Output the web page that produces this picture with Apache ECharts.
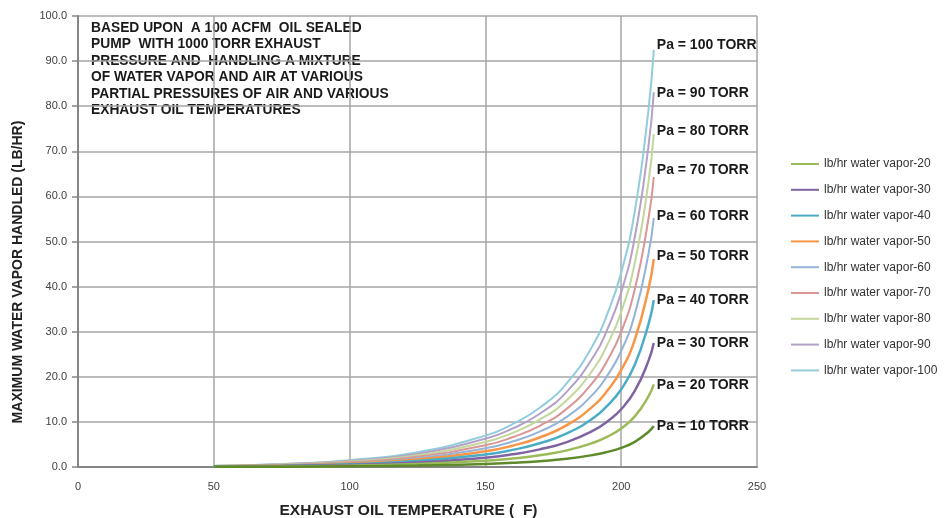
<!DOCTYPE html>
<html>
<head>
<meta charset="utf-8">
<script src="https://cdn.jsdelivr.net/npm/echarts@6/dist/echarts.min.js"></script>
<style>
  html, body { margin: 0; padding: 0; background: #fff; }
  #chart { width: 951px; height: 518px; }
</style>
</head>
<body>
<div id="chart"></div>
<script>
// exhaust oil temperature (F)
const temps = [50, 75, 100, 125, 150, 160, 170, 180, 190, 195, 200, 205, 210, 212];

// lb/hr water vapor handled, one array per air partial pressure
const vapor10 = [0.03, 0.07, 0.15, 0.32, 0.68, 0.93, 1.29, 1.83, 2.70, 3.36, 4.24, 5.58, 7.77, 9.1];
const vapor20 = [0.05, 0.13, 0.30, 0.65, 1.38, 1.88, 2.60, 3.68, 5.43, 6.75, 8.53, 11.22, 15.62, 18.3];
const vapor30 = [0.08, 0.20, 0.45, 0.98, 2.07, 2.82, 3.91, 5.53, 8.16, 10.15, 12.81, 16.86, 23.48, 27.5];
const vapor40 = [0.11, 0.27, 0.60, 1.31, 2.78, 3.80, 5.26, 7.44, 10.97, 13.66, 17.24, 22.68, 31.59, 37.0];
const vapor50 = [0.14, 0.33, 0.75, 1.64, 3.47, 4.73, 6.55, 9.28, 13.67, 17.02, 21.48, 28.26, 39.36, 46.1];
const vapor60 = [0.16, 0.40, 0.90, 1.96, 4.15, 5.66, 7.84, 11.11, 16.37, 20.37, 25.72, 33.84, 47.13, 55.2];
const vapor70 = [0.19, 0.46, 1.05, 2.28, 4.83, 6.60, 9.14, 12.94, 19.07, 23.73, 29.96, 39.42, 54.90, 64.3];
const vapor80 = [0.22, 0.53, 1.21, 2.62, 5.55, 7.57, 10.49, 14.85, 21.89, 27.24, 34.38, 45.24, 63.01, 73.8];
const vapor90 = [0.24, 0.60, 1.36, 2.95, 6.25, 8.53, 11.81, 16.72, 24.65, 30.67, 38.72, 50.94, 70.95, 83.1];
const vapor100 = [0.27, 0.66, 1.51, 3.28, 6.96, 9.49, 13.14, 18.61, 27.44, 34.14, 43.10, 56.70, 78.98, 92.5];

const seriesNames = [
  'lb/hr water vapor-10', 'lb/hr water vapor-20', 'lb/hr water vapor-30', 'lb/hr water vapor-40',
  'lb/hr water vapor-50', 'lb/hr water vapor-60', 'lb/hr water vapor-70', 'lb/hr water vapor-80',
  'lb/hr water vapor-90', 'lb/hr water vapor-100'
];
const endLabels = [
  'Pa = 10 TORR', 'Pa = 20 TORR', 'Pa = 30 TORR', 'Pa = 40 TORR', 'Pa = 50 TORR',
  'Pa = 60 TORR', 'Pa = 70 TORR', 'Pa = 80 TORR', 'Pa = 90 TORR', 'Pa = 100 TORR'
];
const noteLines = [
  'BASED UPON  A 100 ACFM  OIL SEALED',
  'PUMP  WITH 1000 TORR EXHAUST',
  'PRESSURE AND  HANDLING A MIXTURE',
  'OF WATER VAPOR AND AIR AT VARIOUS',
  'PARTIAL PRESSURES OF AIR AND VARIOUS',
  'EXHAUST OIL TEMPERATURES'
];
const xTitle = 'EXHAUST OIL TEMPERATURE (  F)';
const yTitle = 'MAXIMUM WATER VAPOR HANDLED (LB/HR)';

const allVapor = [vapor10, vapor20, vapor30, vapor40, vapor50, vapor60, vapor70, vapor80, vapor90, vapor100];
const colors = ['#5f8a2c', '#9bbb59', '#8064a2', '#4bacc6', '#f79646', '#95b3d7', '#d99694', '#c3d69b', '#b3a2c7', '#93cddd'];
const widths = [2.5, 2.5, 2.5, 2.5, 2.5, 2, 2, 2, 2, 2];
const labelNudge = [0, 1, 0, 0, -3, -2, -7, -3, 1, -5];
const font = '"Liberation Sans", Arial, sans-serif';

const chart = echarts.init(document.getElementById('chart'));

chart.setOption({
  animation: false,
  backgroundColor: '#fff',
  textStyle: { fontFamily: font },
  grid: { left: 78, right: 194, top: 16, bottom: 51, containLabel: false, outerBoundsMode: 'none' },
  legend: {
    orient: 'vertical',
    left: 785,
    top: 152,
    itemWidth: 28,
    itemHeight: 14,
    itemGap: 11.8,
    data: seriesNames.slice(1),
    itemStyle: { opacity: 0 },
    textStyle: { fontSize: 12, lineHeight: 14, color: '#333', fontFamily: font }
  },
  xAxis: {
    type: 'value',
    min: 0,
    max: 250,
    interval: 50,
    name: xTitle,
    nameLocation: 'middle',
    nameGap: 36,
    nameTextStyle: { fontSize: 15.5, fontWeight: 'bold', color: '#222', fontFamily: font, padding: [0, 18, 0, 0] },
    axisLine: { lineStyle: { color: '#868686', width: 2 } },
    axisTick: { show: false },
    axisLabel: { color: '#404040', fontSize: 11, margin: 14 },
    splitLine: { show: true, lineStyle: { color: '#a6a6a6', width: 1.5 } }
  },
  yAxis: {
    type: 'value',
    min: 0,
    max: 100,
    interval: 10,
    axisLine: { show: true, lineStyle: { color: '#868686', width: 2 } },
    axisTick: { show: true, length: 6, lineStyle: { color: '#868686', width: 1.5 } },
    axisLabel: { color: '#404040', fontSize: 11, margin: 11, formatter: (v) => v.toFixed(1) },
    splitLine: { show: true, lineStyle: { color: '#a6a6a6', width: 1.5 } }
  },
  graphic: [
    {
      type: 'text',
      left: 91,
      top: 20,
      style: {
        text: noteLines.join('\n'),
        font: 'bold 13.8px ' + font,
        lineHeight: 16.4,
        fill: '#1a1a1a'
      }
    },
    {
      type: 'text',
      x: 18,
      y: 272,
      rotation: Math.PI / 2,
      style: {
        text: yTitle,
        font: 'bold 14px ' + font,
        fill: '#222',
        align: 'center',
        verticalAlign: 'middle'
      }
    }
  ],
  series: allVapor.map((vals, i) => ({
    name: seriesNames[i],
    type: 'line',
    data: temps.map((t, j) => [t, vals[j]]),
    smooth: true,
    symbol: 'none',
    color: colors[i],
    lineStyle: { width: widths[i], color: colors[i] },
    z: 10 - i,
    endLabel: {
      show: true,
      formatter: endLabels[i],
      distance: 3,
      offset: [0, labelNudge[i]],
      fontSize: 14,
      fontWeight: 'bold',
      color: '#1a1a1a',
      fontFamily: font
    }
  }))
});
</script>
</body>
</html>
